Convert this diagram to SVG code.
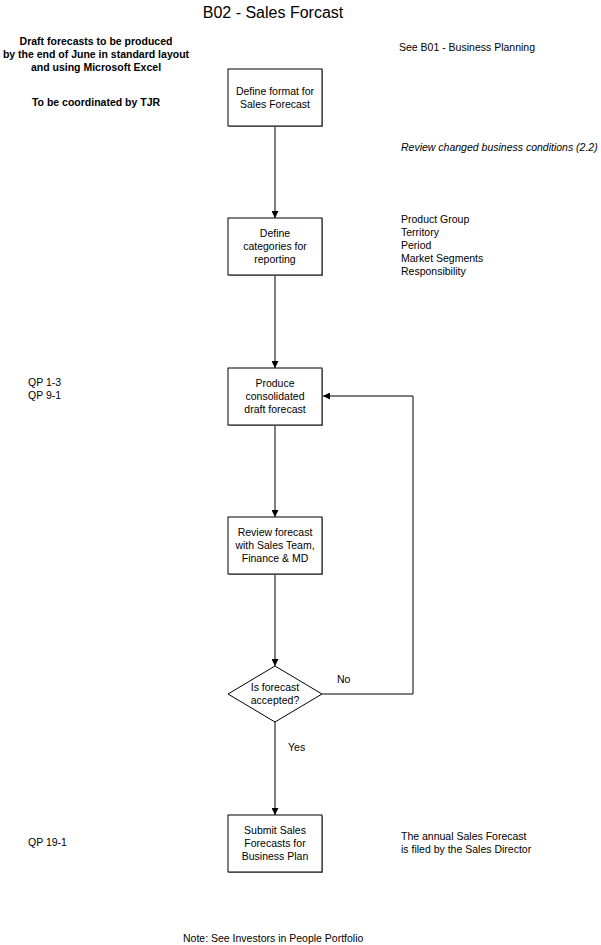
<svg xmlns="http://www.w3.org/2000/svg" width="601" height="945" viewBox="0 0 601 945">
<defs>
<style>
text{font-family:"Liberation Sans",Arial,sans-serif;font-size:10.5px;fill:#000}
.c{text-anchor:middle}
.b{font-weight:bold}
.n{fill:#fff;stroke:#000;stroke-width:1}
.s{fill:#999;stroke:none}
.e{fill:none;stroke:#000;stroke-width:1}
</style>
<marker id="a" viewBox="0 0 10 10" refX="10" refY="5" markerWidth="7" markerHeight="7" orient="auto" markerUnits="userSpaceOnUse"><path d="M0,0L10,5L0,10z" fill="#000"/></marker>
</defs>
<rect width="601" height="945" fill="#fff"/>
<text x="273" y="18" class="c" style="font-size:16px">B02 - Sales Forcast</text>
<text x="96" y="45" class="c b">Draft forecasts to be produced</text>
<text x="96" y="58" class="c b">by the end of June in standard layout</text>
<text x="96" y="71" class="c b">and using Microsoft Excel</text>
<text x="96" y="106" class="c b">To be coordinated by TJR</text>
<text x="399" y="51">See B01 - Business Planning</text>
<text x="401" y="151" style="font-style:italic">Review changed business conditions (2.2)</text>
<text x="401" y="223">Product Group</text>
<text x="401" y="236">Territory</text>
<text x="401" y="249">Period</text>
<text x="401" y="262">Market Segments</text>
<text x="401" y="275">Responsibility</text>
<text x="28" y="386">QP 1-3</text>
<text x="28" y="399">QP 9-1</text>
<text x="28" y="846">QP 19-1</text>
<text x="401" y="840">The annual Sales Forecast</text>
<text x="401" y="853">is filed by the Sales Director</text>
<text x="183" y="942">Note: See Investors in People Portfolio</text>
<g id="connectors">
<path class="e" d="M275,127V218" marker-end="url(#a)"/>
<path class="e" d="M275,276V368" marker-end="url(#a)"/>
<path class="e" d="M275,426V517" marker-end="url(#a)"/>
<path class="e" d="M275,575V666" marker-end="url(#a)"/>
<path class="e" d="M275,722V815" marker-end="url(#a)"/>
<path class="e" d="M322,694H413V396H323" marker-end="url(#a)"/>
<text x="337" y="683">No</text>
<text x="288" y="751">Yes</text>
</g>
<g id="n1"><rect class="s" x="229" y="70" width="94" height="57"/><rect class="n" x="228" y="69" width="94" height="57"/><text class="c" x="275" y="95">Define format for</text><text class="c" x="275" y="108">Sales Forecast</text></g>
<g id="n2"><rect class="s" x="229" y="219" width="94" height="57"/><rect class="n" x="228" y="218" width="94" height="57"/><text class="c" x="275" y="237">Define</text><text class="c" x="275" y="250">categories for</text><text class="c" x="275" y="263">reporting</text></g>
<g id="n3"><rect class="s" x="229" y="369" width="94" height="57"/><rect class="n" x="228" y="368" width="94" height="57"/><text class="c" x="275" y="387">Produce</text><text class="c" x="275" y="400">consolidated</text><text class="c" x="275" y="413">draft forecast</text></g>
<g id="n4"><rect class="s" x="229" y="518" width="94" height="57"/><rect class="n" x="228" y="517" width="94" height="57"/><text class="c" x="275" y="536">Review forecast</text><text class="c" x="275" y="549">with Sales Team,</text><text class="c" x="275" y="562">Finance &amp; MD</text></g>
<g id="n5"><path class="n" d="M275,666L322,694L275,722L228,694Z"/><text class="c" x="275" y="691">Is forecast</text><text class="c" x="275" y="704">accepted?</text></g>
<g id="n6"><rect class="s" x="229" y="816" width="94" height="57"/><rect class="n" x="228" y="815" width="94" height="57"/><text class="c" x="275" y="834">Submit Sales</text><text class="c" x="275" y="847">Forecasts for</text><text class="c" x="275" y="860">Business Plan</text></g>
</svg>
